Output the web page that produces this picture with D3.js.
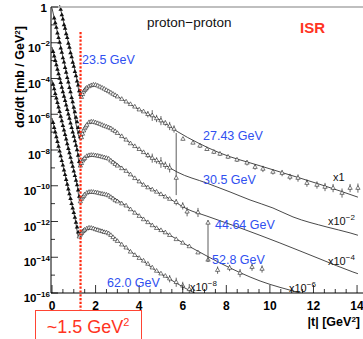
<!DOCTYPE html>
<html>
<head>
<meta charset="utf-8">
<script src="https://cdn.jsdelivr.net/npm/d3@7"></script>
<style>
  body { margin: 0; background: #fff; }
  svg { display: block; font-family: "Liberation Sans", Arial, Helvetica, sans-serif; }
</style>
</head>
<body>
<svg id="chart" width="363" height="339"></svg>
<script>
// ---- data (dsigma/dt in mb/GeV^2, unscaled; |t| in GeV^2) ----
var curveScales = [1, 1e-2, 1e-4, 1e-6, 1e-8];
var scaleExps = ["1", "\u22122", "\u22124", "\u22126", "\u22128"];
var energies = ["23.5 GeV", "27.43 GeV", "30.5 GeV", "44.64 GeV", "52.8 GeV", "62.0 GeV"];
var yTickExps = [0, -2, -4, -6, -8, -10, -12, -14, -16];
var xTickValues = [0, 2, 4, 6, 8, 10, 12, 14];

// fit curves, one per scale factor
var modelT0 = [0, 0.37, 0.83, 1.10, 1.33, 1.47, 1.65, 1.88, 2.2, 2.66, 3.12, 4.04, 4.96, 5.74, 6.70, 7.71, 9.55, 11.38, 13.22, 14.04];
var modelV0 = [7.9e1, 1.0, 3.9e-3, 1.6e-4, 8.1e-6, 2.0e-5, 3.3e-5, 4.4e-5, 3.3e-5, 1.7e-5, 8.1e-6, 1.7e-6, 4.8e-7, 1.1e-7, 2.5e-8, 6.8e-9, 1.3e-9, 2.7e-10, 5.1e-11, 2.3e-11];
var modelT1 = [0, 0.37, 0.83, 1.33, 1.47, 1.74, 2.2, 2.66, 3.12, 3.58, 4.04, 4.5, 4.96, 5.42, 5.74, 7.11, 8.17, 9.09, 10.14, 11.06, 12.62, 13.68, 14.04];
var modelV1 = [8.7e1, 8.5e-1, 2.4e-3, 3.6e-6, 1.3e-5, 3.7e-5, 2.8e-5, 1.7e-5, 6.9e-6, 2.5e-6, 1.0e-6, 4.1e-7, 2.1e-7, 9.8e-8, 5.9e-8, 1.4e-8, 4.5e-9, 1.6e-9, 5.7e-10, 1.8e-10, 4.9e-11, 2.3e-11, 1.7e-11];
var modelT2 = [0, 0.37, 0.83, 1.15, 1.29, 1.47, 1.84, 2.57, 3.35, 4.13, 4.73, 5.42, 6.20, 7.11, 8.63, 10.46, 12.30, 13.81, 14.04];
var modelV2 = [5.8e1, 8.3e-1, 4.2e-3, 1.0e-4, 1.1e-5, 3.2e-5, 5.2e-5, 3.5e-5, 7.6e-6, 1.3e-6, 5.1e-7, 1.8e-7, 5.0e-8, 2.0e-8, 4.4e-9, 6.3e-10, 8.0e-11, 1.5e-11, 1.2e-11];
var modelT3 = [0, 0.37, 0.83, 1.15, 1.29, 1.47, 1.74, 2.57, 3.35, 4.13, 4.73, 5.32, 6.10, 6.79, 7.71, 9.55, 11.38, 12.30];
var modelV3 = [8.3e1, 1.0, 4.6e-3, 1.1e-4, 1.2e-5, 2.7e-5, 4.5e-5, 3.0e-5, 8.3e-6, 1.6e-6, 4.9e-7, 2.0e-7, 5.5e-8, 1.9e-8, 4.8e-9, 4.7e-10, 1.0e-10, 4.6e-11];
var modelT4 = [0, 0.37, 0.83, 1.06, 1.24, 1.47, 1.74, 2.57, 3.35, 4.13, 4.73, 5.32, 6.10, 7.02];
var modelV4 = [6.2e1, 6.8e-1, 2.3e-3, 1.4e-4, 1.2e-5, 2.6e-5, 4.4e-5, 2.3e-5, 3.7e-6, 7.1e-7, 1.9e-7, 6.9e-8, 1.9e-8, 5.2e-9];

// 23.5 GeV (x1)
var fillT235 = [0.40, 0.45, 0.50, 0.55, 0.60, 0.65, 0.70, 0.75, 0.80, 0.85, 0.90, 0.95, 1.00, 1.05, 1.10, 1.15, 1.20, 1.25, 1.30];
var fillV235 = [7.2e-1, 3.6e-1, 2.1e-1, 1.0e-1, 6.3e-2, 3.1e-2, 1.9e-2, 9.2e-3, 5.5e-3, 2.7e-3, 1.6e-3, 8.0e-4, 4.8e-4, 2.4e-4, 1.4e-4, 7.0e-5, 4.2e-5, 2.0e-5, 1.3e-5];
var openT235 = [1.35, 1.40, 1.45, 1.50, 1.55, 1.60, 1.70, 1.80, 1.90, 2.00, 2.10, 2.20, 2.30, 2.40, 2.50, 2.60, 2.70, 2.80, 2.90, 3.00, 3.20, 3.40, 3.60, 3.80, 4.00, 4.20];
var openV235 = [9.0e-6, 1.3e-5, 1.8e-5, 2.2e-5, 2.6e-5, 3.0e-5, 3.6e-5, 4.1e-5, 4.4e-5, 4.3e-5, 3.9e-5, 3.4e-5, 3.0e-5, 2.6e-5, 2.2e-5, 1.9e-5, 1.6e-5, 1.35e-5, 1.15e-5, 9.6e-6, 7.0e-6, 5.0e-6, 3.6e-6, 2.6e-6, 1.8e-6, 1.4e-6];
var barT235 = [4.4, 4.6, 4.8, 5.0, 5.2, 5.4, 5.6];
var barV235 = [1.0e-6, 8.5e-7, 5.8e-7, 4.4e-7, 3.2e-7, 2.2e-7, 1.5e-7];
var barE235 = [1.5, 2.0, 1.6, 1.8, 1.4, 1.7, 1.6];

// 27.43 GeV (x1, large |t|)
var barT2743 = [6.01, 6.47, 6.79, 7.11, 7.43, 7.71, 8.08, 8.49, 8.95, 9.32, 9.68, 10.14, 10.56, 10.92, 11.29, 11.70, 12.16, 12.53, 12.90, 13.31, 13.68, 14.04];
var barV2743 = [4.1e-8, 2.5e-8, 1.7e-8, 1.1e-8, 7.7e-9, 6.0e-9, 4.1e-9, 2.8e-9, 1.9e-9, 1.1e-9, 8.7e-10, 5.9e-10, 5.1e-10, 3.1e-10, 2.7e-10, 1.4e-10, 1.1e-10, 8.5e-11, 7.4e-11, 3.9e-11, 7.4e-11, 7.4e-11];
var barE2743 = [1.2, 1.2, 1.3, 1.2, 1.3, 1.3, 1.3, 1.3, 1.4, 1.4, 1.5, 1.4, 1.5, 1.5, 1.6, 1.6, 1.6, 1.7, 1.7, 1.8, 1.7, 1.8];

// 30.5 GeV (x10^-2)
var fillT305 = [0.10, 0.15, 0.20, 0.25, 0.30, 0.35, 0.40, 0.45, 0.50, 0.55, 0.60, 0.65, 0.70, 0.75, 0.80, 0.85, 0.90, 0.95, 1.00, 1.05, 1.10, 1.15, 1.20, 1.25, 1.30];
var fillV305 = [2.4e1, 1.3e1, 7.1, 3.4, 1.9, 1.05, 5.0e-1, 2.9e-1, 1.4e-1, 8.1e-2, 4.0e-2, 2.2e-2, 1.1e-2, 6.2e-3, 3.1e-3, 1.8e-3, 8.5e-4, 4.9e-4, 2.4e-4, 1.35e-4, 6.6e-5, 3.7e-5, 1.8e-5, 1.0e-5, 5.4e-6];
var openT305 = [1.35, 1.40, 1.45, 1.50, 1.55, 1.60, 1.70, 1.80, 1.90, 2.00, 2.10, 2.20, 2.30, 2.40, 2.50, 2.60, 2.70, 2.80, 2.90, 3.00, 3.20, 3.40, 3.60, 3.80, 4.00, 4.20];
var openV305 = [5.0e-6, 7.9e-6, 1.2e-5, 1.6e-5, 2.0e-5, 2.5e-5, 3.5e-5, 3.8e-5, 3.7e-5, 3.4e-5, 3.1e-5, 2.8e-5, 2.5e-5, 2.2e-5, 2.0e-5, 1.8e-5, 1.6e-5, 1.3e-5, 1.1e-5, 8.7e-6, 5.8e-6, 3.7e-6, 2.3e-6, 1.6e-6, 1.1e-6, 7.4e-7];
var barT305 = [4.4, 4.6, 4.8, 5.0, 5.2, 5.4];
var barV305 = [5.0e-7, 3.5e-7, 2.6e-7, 2.0e-7, 1.4e-7, 1.0e-7];
var barE305 = [1.4, 1.8, 1.5, 2.0, 1.6, 1.8];

// 44.64 GeV (x10^-4)
var fillT4464 = [0.05, 0.10, 0.15, 0.20, 0.25, 0.30, 0.35, 0.40, 0.45, 0.50, 0.55, 0.60, 0.65, 0.70, 0.75, 0.80, 0.85, 0.90, 0.95, 1.00, 1.05, 1.10, 1.15, 1.20, 1.25];
var fillV4464 = [3.2e1, 1.8e1, 1.0e1, 5.8, 3.2, 1.8, 1.0, 5.8e-1, 3.2e-1, 1.8e-1, 1.0e-1, 5.8e-2, 3.2e-2, 1.8e-2, 1.0e-2, 5.8e-3, 3.2e-3, 1.8e-3, 1.0e-3, 5.8e-4, 3.2e-4, 1.8e-4, 1.0e-4, 5.0e-5, 2.2e-5];
var openT4464 = [1.30, 1.35, 1.40, 1.45, 1.50, 1.60, 1.70, 1.80, 1.90, 2.00, 2.10, 2.20, 2.30, 2.40, 2.50, 2.60, 2.70, 2.80, 2.90, 3.00, 3.20, 3.40, 3.60, 3.80, 4.00, 4.20, 4.40, 4.60, 4.80, 5.00, 5.20, 5.40];
var openV4464 = [1.3e-5, 1.8e-5, 2.5e-5, 3.0e-5, 3.5e-5, 4.5e-5, 5.0e-5, 5.2e-5, 5.1e-5, 4.9e-5, 4.7e-5, 4.4e-5, 4.1e-5, 3.8e-5, 3.5e-5, 3.2e-5, 2.5e-5, 2.0e-5, 1.6e-5, 1.3e-5, 9.3e-6, 6.6e-6, 4.2e-6, 2.6e-6, 1.7e-6, 1.1e-6, 7.9e-7, 6.0e-7, 4.5e-7, 3.3e-7, 2.4e-7, 1.8e-7];
var barT4464 = [5.7, 6.0, 6.2, 6.7];
var barV4464 = [1.2e-7, 7.5e-8, 3.5e-8, 3.2e-8];
var barE4464 = [1.5, 1.6, 1.8, 1.8];

// 52.8 GeV (x10^-6)
var fillT528 = [0.05, 0.10, 0.15, 0.20, 0.25, 0.30, 0.35, 0.40, 0.45, 0.50, 0.55, 0.60, 0.65, 0.70, 0.75, 0.80, 0.85, 0.90, 0.95, 1.00, 1.05, 1.10, 1.15, 1.20, 1.25];
var fillV528 = [4.7e1, 2.6e1, 1.4e1, 7.9, 4.5, 2.5, 1.4, 7.6e-1, 4.2e-1, 2.3e-1, 1.3e-1, 7.2e-2, 4.0e-2, 2.2e-2, 1.2e-2, 6.9e-3, 3.8e-3, 2.1e-3, 1.2e-3, 6.6e-4, 3.6e-4, 2.0e-4, 1.1e-4, 5.6e-5, 2.5e-5];
var openT528 = [1.30, 1.35, 1.40, 1.45, 1.50, 1.60, 1.70, 1.80, 1.90, 2.00, 2.10, 2.20, 2.30, 2.40, 2.50, 2.60, 2.70, 2.80, 2.90, 3.00, 3.20, 3.40, 3.60, 3.80, 4.00, 4.20, 4.40, 4.60, 4.80, 5.00, 5.20, 5.40, 5.70, 6.00, 6.30, 6.70, 7.16];
var openV528 = [1.3e-5, 1.8e-5, 2.2e-5, 2.6e-5, 3.2e-5, 4.0e-5, 4.4e-5, 4.5e-5, 4.4e-5, 4.2e-5, 4.0e-5, 3.7e-5, 3.5e-5, 3.3e-5, 3.1e-5, 2.8e-5, 2.3e-5, 1.9e-5, 1.5e-5, 1.3e-5, 1.0e-5, 7.6e-6, 4.7e-6, 3.0e-6, 2.0e-6, 1.3e-6, 8.9e-7, 6.0e-7, 4.2e-7, 3.2e-7, 2.4e-7, 1.7e-7, 1.0e-7, 6.3e-8, 4.0e-8, 1.8e-8, 7.1e-9];
var barT528 = [7.60, 8.15, 8.63, 9.18, 9.64];
var barV528 = [1.9e-9, 2.5e-9, 1.3e-9, 2.8e-9, 2.2e-9];
var barE528 = [1.6, 1.5, 1.7, 1.6, 1.6];

// 62.0 GeV (x10^-8)
var fillT620 = [0.05, 0.10, 0.15, 0.20, 0.25, 0.30, 0.35, 0.40, 0.45, 0.50, 0.55, 0.60, 0.65, 0.70, 0.75, 0.80, 0.85, 0.90, 0.95, 1.00, 1.05, 1.10, 1.15, 1.20];
var fillV620 = [3.4e1, 1.8e1, 1.0e1, 5.4, 2.9, 1.6, 8.5e-1, 4.7e-1, 2.5e-1, 1.4e-1, 7.4e-2, 4.1e-2, 2.2e-2, 1.2e-2, 6.5e-3, 3.5e-3, 1.9e-3, 1.0e-3, 5.6e-4, 3.1e-4, 1.7e-4, 8.9e-5, 4.8e-5, 2.5e-5];
var openT620 = [1.25, 1.30, 1.35, 1.40, 1.45, 1.50, 1.60, 1.70, 1.80, 1.90, 2.00, 2.10, 2.20, 2.30, 2.40, 2.50, 2.60, 2.70, 2.80, 2.90, 3.00, 3.20, 3.40, 3.60, 3.80, 4.00, 4.20, 4.40, 4.60, 4.80, 5.00, 5.20];
var openV620 = [1.4e-5, 1.8e-5, 2.2e-5, 2.7e-5, 3.0e-5, 3.4e-5, 4.0e-5, 4.4e-5, 4.3e-5, 4.0e-5, 3.6e-5, 3.3e-5, 3.0e-5, 2.8e-5, 2.5e-5, 2.4e-5, 2.1e-5, 1.7e-5, 1.3e-5, 1.0e-5, 7.9e-6, 5.0e-6, 3.4e-6, 2.0e-6, 1.3e-6, 8.9e-7, 6.3e-7, 4.2e-7, 2.6e-7, 1.7e-7, 1.2e-7, 8.9e-8];
var barT620 = [5.4, 5.7, 6.0, 6.3];
var barV620 = [6.3e-8, 4.0e-8, 2.5e-8, 1.6e-8];
var barE620 = [1.6, 1.8, 1.7, 2.0];

// points with very large (asymmetric) errors
var longT = [5.7, 7.16];
var longV = [2.7e-8, 8.3e-9];
var longLo = [3.0e-9, 5.4e-11];
var longHi = [8.9e-6, 1.2e-8];
var longK = [1, 2];

var dipT = 1.31; // ~1.5 GeV^2 marker

// ---- layout ----
var svg = d3.select("#chart");
var plotL = 51, plotR = 363, plotT = 7, plotB = 293;
var x = d3.scaleLinear().domain([0, 14.25]).range([52, 362.5]);
var y = d3.scaleLog().domain([1e-16, 1]).range([plotB, plotT]);

var zip = function(ts, vs, es) {
  return ts.map(function(t, i) { return { t: t, v: vs[i], e: es ? es[i] : 1 }; });
};

var series = [
  { k: 0, fill: zip(fillT235, fillV235), open: zip(openT235, openV235), bars: zip(barT235, barV235, barE235) },
  { k: 0, fill: [], open: [], bars: zip(barT2743, barV2743, barE2743) },
  { k: 1, fill: zip(fillT305, fillV305), open: zip(openT305, openV305), bars: zip(barT305, barV305, barE305) },
  { k: 2, fill: zip(fillT4464, fillV4464), open: zip(openT4464, openV4464), bars: zip(barT4464, barV4464, barE4464) },
  { k: 3, fill: zip(fillT528, fillV528), open: zip(openT528, openV528), bars: zip(barT528, barV528, barE528) },
  { k: 4, fill: zip(fillT620, fillV620), open: zip(openT620, openV620), bars: zip(barT620, barV620, barE620) }
];
var models = [zip(modelT0, modelV0), zip(modelT1, modelV1), zip(modelT2, modelV2), zip(modelT3, modelV3), zip(modelT4, modelV4)];

svg.append("clipPath").attr("id", "plotclip")
  .append("rect").attr("x", plotL).attr("y", plotT - 2).attr("width", plotR - plotL).attr("height", plotB - plotT + 2);

var plot = svg.append("g").attr("clip-path", "url(#plotclip)");

// fit lines
var line = d3.line().curve(d3.curveMonotoneX);
models.forEach(function(m, k) {
  plot.append("path")
    .attr("d", line(m.map(function(d) { return [x(d.t), y(d.v * curveScales[k])]; })))
    .attr("fill", "none").attr("stroke", "#1a1a1a").attr("stroke-width", 0.8);
});

var tri = d3.symbol().type(d3.symbolTriangle);

series.forEach(function(s) {
  var sc = curveScales[s.k];
  // error bars
  plot.selectAll(null).data(s.bars).enter().append("line")
    .attr("x1", function(d) { return x(d.t); }).attr("x2", function(d) { return x(d.t); })
    .attr("y1", function(d) { return y(d.v * sc / d.e); })
    .attr("y2", function(d) { return y(d.v * sc * d.e); })
    .attr("stroke", "#222").attr("stroke-width", 0.7);
  // filled triangles (forward peak)
  plot.selectAll(null).data(s.fill).enter().append("path")
    .attr("d", tri.size(9)())
    .attr("transform", function(d) { return "translate(" + x(d.t) + "," + y(d.v * sc) + ")"; })
    .attr("fill", "#111");
  // open triangles
  plot.selectAll(null).data(s.open.concat(s.bars)).enter().append("path")
    .attr("d", tri.size(8)())
    .attr("transform", function(d) { return "translate(" + x(d.t) + "," + y(d.v * sc) + ")"; })
    .attr("fill", "#fff").attr("stroke", "#111").attr("stroke-width", 0.55);
});

// long error bars
longT.forEach(function(t, i) {
  var sc = curveScales[longK[i]];
  plot.append("line")
    .attr("x1", x(t)).attr("x2", x(t))
    .attr("y1", y(longLo[i] * sc)).attr("y2", y(longHi[i] * sc))
    .attr("stroke", "#333").attr("stroke-width", 0.8);
  plot.append("path").attr("d", tri.size(8)())
    .attr("transform", "translate(" + x(t) + "," + y(longV[i] * sc) + ")")
    .attr("fill", "#fff").attr("stroke", "#111").attr("stroke-width", 0.55);
});

// ---- frame and axes ----
svg.append("line").attr("x1", plotL).attr("x2", plotR).attr("y1", plotT).attr("y2", plotT)
  .attr("stroke", "#aaa").attr("stroke-width", 1.6);
svg.append("line").attr("x1", plotL).attr("x2", plotL).attr("y1", plotT).attr("y2", plotB)
  .attr("stroke", "#000").attr("stroke-width", 1);
svg.append("line").attr("x1", plotL).attr("x2", plotR).attr("y1", plotB).attr("y2", plotB)
  .attr("stroke", "#000").attr("stroke-width", 1);

// y ticks, every decade
d3.range(-16, 1).forEach(function(e) {
  var yy = y(Math.pow(10, e));
  svg.append("line").attr("x1", plotL).attr("x2", plotL + (e % 2 === 0 ? 7 : 4))
    .attr("y1", yy).attr("y2", yy).attr("stroke", "#000").attr("stroke-width", 0.8);
});
yTickExps.forEach(function(e) {
  var yy = y(Math.pow(10, e));
  if (e === 0) {
    svg.append("text").attr("x", 47).attr("y", yy + 4.5).attr("text-anchor", "end")
      .attr("font-size", 11.5).attr("font-weight", "bold").text("1");
  } else {
    var t = svg.append("text").attr("x", 50).attr("y", yy + 9).attr("text-anchor", "end")
      .attr("font-size", 11.5).attr("font-weight", "bold");
    t.append("tspan").text("10");
    t.append("tspan").attr("dy", -5.5).attr("font-size", 8).text("\u2212" + (-e));
  }
});

// x ticks
d3.range(0, 14.26, 0.5).forEach(function(v) {
  var major = Math.abs(v % 2) < 1e-6;
  svg.append("line").attr("x1", x(v)).attr("x2", x(v))
    .attr("y1", plotB).attr("y2", plotB - (major ? 8 : 4))
    .attr("stroke", "#000").attr("stroke-width", 0.8);
});
svg.selectAll(null).data(xTickValues).enter().append("text")
  .attr("x", function(d) { return x(d); }).attr("y", 309.5)
  .attr("text-anchor", "middle").attr("font-size", 12).attr("font-weight", "bold")
  .text(function(d) { return d; });

// axis titles
var xt = svg.append("text").attr("x", 360).attr("y", 326).attr("text-anchor", "end")
  .attr("font-size", 12.5).attr("font-weight", "bold");
xt.append("tspan").text("|t| [GeV");
xt.append("tspan").attr("dy", -4).attr("font-size", 8).text("2");
xt.append("tspan").attr("dy", 4).text("]");

var yt = svg.append("text").attr("transform", "translate(24,77) rotate(-90)")
  .attr("text-anchor", "middle").attr("font-size", 12.5).attr("font-weight", "bold");
yt.append("tspan").text("d\u03c3/dt [mb / GeV");
yt.append("tspan").attr("dy", -4).attr("font-size", 8).text("2");
yt.append("tspan").attr("dy", 4).text("]");

// titles
svg.append("text").attr("x", 147).attr("y", 27).attr("font-size", 13.5).attr("fill", "#111")
  .text("proton\u2212proton");
svg.append("text").attr("x", 300).attr("y", 33).attr("font-size", 15).attr("font-weight", "bold")
  .attr("fill", "#ff3322").text("ISR");

// energy labels
var energyPos = [[82, 64], [203, 140], [203, 184], [215, 229], [212, 264], [107, 287]];
energies.forEach(function(lbl, i) {
  svg.append("text").attr("x", energyPos[i][0]).attr("y", energyPos[i][1])
    .attr("font-size", 12.5).attr("fill", "#3050f0").text(lbl);
});

// scale factor labels
var scalePos = [[333, 181], [328, 225], [328, 265], [289, 292], [190, 291]];
scaleExps.forEach(function(ex, i) {
  var t = svg.append("text").attr("x", scalePos[i][0]).attr("y", scalePos[i][1])
    .attr("font-size", 11).attr("fill", "#111");
  if (i === 0) {
    t.text("x1");
  } else {
    t.append("tspan").text("x10");
    t.append("tspan").attr("dy", -5).attr("font-size", 8).text(ex);
  }
});

// dip marker
svg.append("line").attr("x1", x(dipT)).attr("x2", x(dipT)).attr("y1", 32).attr("y2", 310)
  .attr("stroke", "#ff2a10").attr("stroke-width", 2.2).attr("stroke-dasharray", "2.2,1.6");
svg.append("rect").attr("x", 35.5).attr("y", 310.5).attr("width", 106).attr("height", 40)
  .attr("fill", "none").attr("stroke", "#ff4433").attr("stroke-width", 1);
var rt = svg.append("text").attr("x", 88).attr("y", 333).attr("text-anchor", "middle")
  .attr("font-size", 18).attr("fill", "#ff3322");
rt.append("tspan").text("~1.5 GeV");
rt.append("tspan").attr("dy", -7).attr("font-size", 11).text("2");
</script>
</body>
</html>
